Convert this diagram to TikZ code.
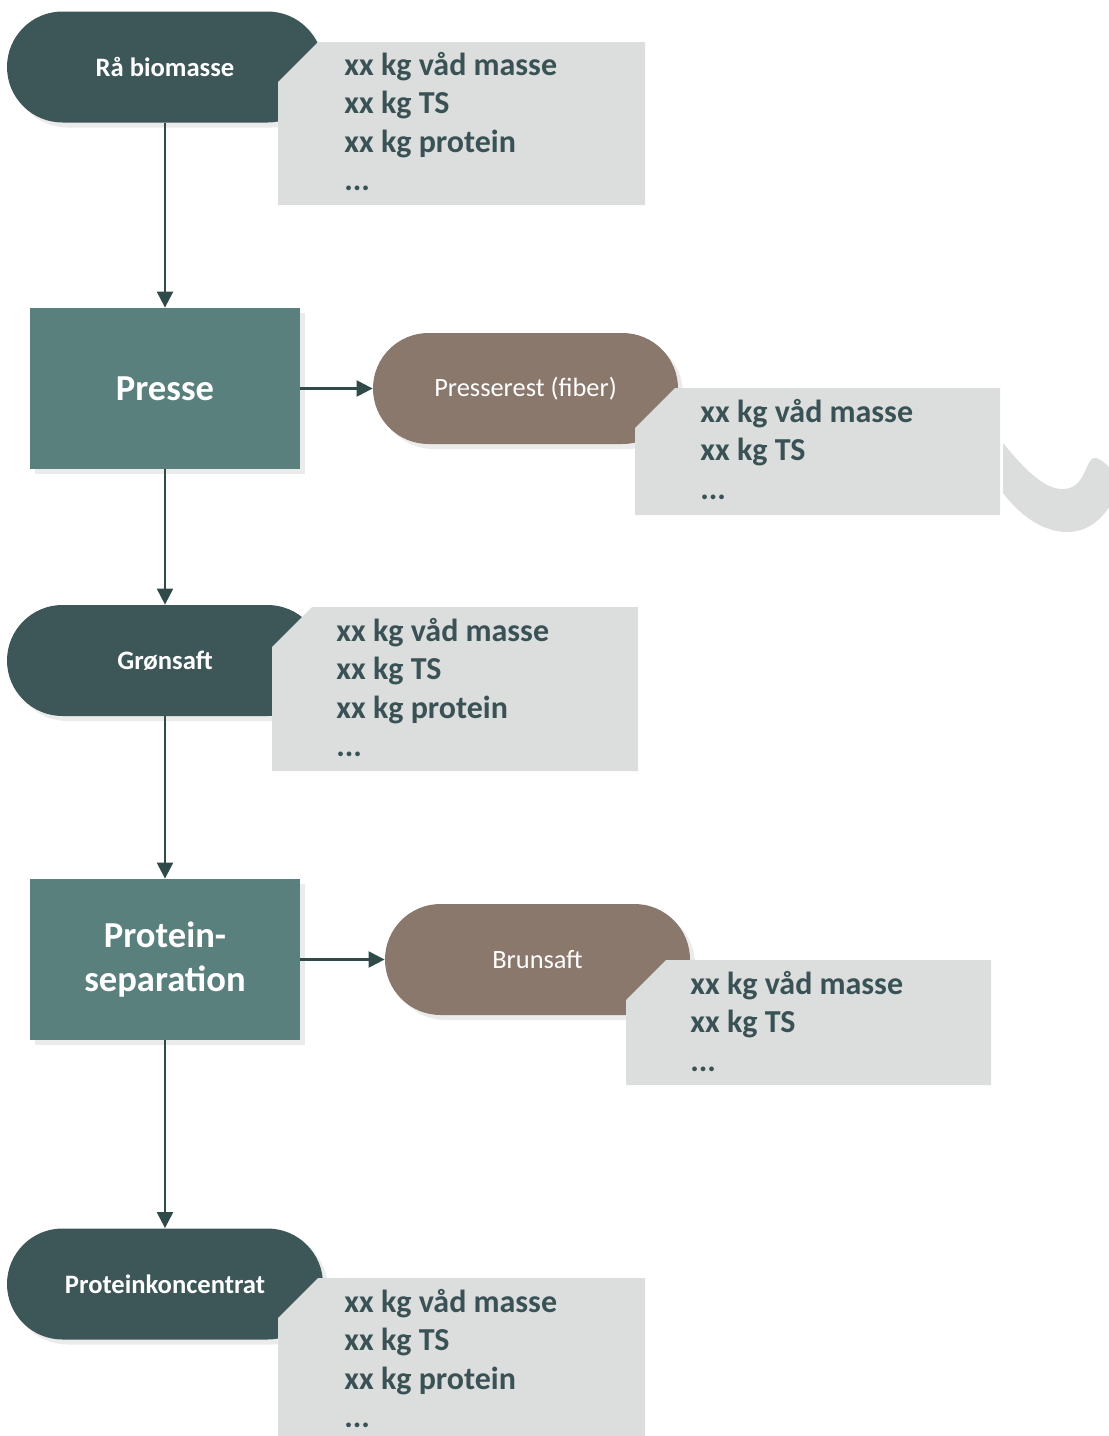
\documentclass[tikz,border=0pt]{standalone}
\usepackage{fontspec}
\setmainfont{Carlito}
\usetikzlibrary{arrows.meta,shadows}
\definecolor{termcol}{HTML}{3D5758}
\definecolor{proccol}{HTML}{5A807E}
\definecolor{restcol}{HTML}{8A786D}
\definecolor{infocol}{HTML}{DCDEDD}
\definecolor{infotxt}{HTML}{3A5255}
\definecolor{flowcol}{HTML}{2F4A48}
\tikzset{
  shade/.style={drop shadow={shadow xshift=2.5pt, shadow yshift=-2.5pt, opacity=.08, fill=black}},
  term/.style={rectangle, rounded corners=27.75pt, minimum width=158pt, minimum height=55.5pt,
    fill=termcol, text=white, inner sep=0pt, shade, font=\fontsize{13.3}{16}\selectfont\bfseries},
  outlet/.style={term, fill=restcol, minimum width=152.5pt, font=\fontsize{13.2}{16}\selectfont},
  proc/.style={rectangle, minimum width=135pt, minimum height=80.5pt, fill=proccol, text=white,
    align=center, shade, font=\fontsize{18.3}{22}\selectfont\bfseries},
  info/.style={fill=infocol},
  infotext/.style={anchor=base west, inner sep=0pt, align=left, text=infotxt,
    font=\fontsize{16}{19.25}\selectfont\bfseries},
  flow/.style={-{Triangle[width=8pt,length=8pt]}, line width=1.1pt, draw=flowcol},
}
\begin{document}
\begin{tikzpicture}[x=0.5pt, y=-0.5pt]
\useasboundingbox (0,0) rectangle (1109,1436);
\def\ch{40} % afskaaret hjoerne
% hovedstroem
\node[term] (raa) at (165,67) {Rå biomasse};
\node[proc] (presse) at (165,388.5) {Presse};
\node[term] (groen) at (165,660.5) {Grønsaft};
\node[proc] (separ) at (165,959.5) {Protein-\\separation};
\node[term] (konc) at (165,1284) {Proteinkoncentrat};
% sidestroemme
\node[outlet] (rest) at (525.5,388.5) {Presserest (fiber)};
\node[outlet] (brun) at (537.5,959.5) {Brunsaft};
% massebalance-felter
\foreach \l/\t/\r/\b in {278/42/645/205, 635/388/1000/515, 272/607/638/771,
  626/960/991/1085, 278/1278/645/1445}
  \fill[info] (\l,\t+\ch) -- (\l+\ch,\t) -- (\r,\t) -- (\r,\b) -- (\l,\b) -- cycle;
\fill[info] (1003,443) .. controls (1025,470) and (1045,490) .. (1064,489)
  .. controls (1082,488) and (1084,470) .. (1090,461)
  .. controls (1095,454) and (1102,460) .. (1112,470) -- (1112,503)
  .. controls (1100,522) and (1085,533) .. (1064,532)
  .. controls (1040,530) and (1020,515) .. (1003,493) -- cycle;
% base = sidste linje
\node[infotext] (raainfo) at (344,190.5) {xx kg våd masse\\xx kg TS\\xx kg protein\\...};
\node[infotext] (restinfo) at (700,499) {xx kg våd masse\\xx kg TS\\...};
\node[infotext] (groeninfo) at (336,756.5) {xx kg våd masse\\xx kg TS\\xx kg protein\\...};
\node[infotext] (bruninfo) at (690,1071) {xx kg våd masse\\xx kg TS\\...};
\node[infotext] (koncinfo) at (344,1427.5) {xx kg våd masse\\xx kg TS\\xx kg protein\\...};
% pile
\draw[flow] (raa) -- (presse);
\draw[flow] (presse) -- (groen);
\draw[flow] (groen) -- (separ);
\draw[flow] (separ) -- (konc);
\draw[flow] (presse) -- (rest);
\draw[flow] (separ) -- (brun);
\end{tikzpicture}
\end{document}
